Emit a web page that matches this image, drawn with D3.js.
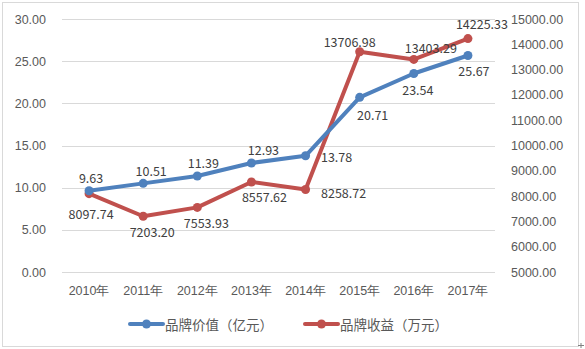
<!DOCTYPE html>
<html><head><meta charset="utf-8">
<script src="https://cdn.jsdelivr.net/npm/d3@7"></script>
<style>
html,body{margin:0;padding:0;background:#fff;}
svg{display:block;font-family:"Noto Sans CJK SC","Noto Sans",sans-serif;}
</style></head>
<body><svg id="c" width="585" height="349"></svg>
<script>
const categories = ["2010年","2011年","2012年","2013年","2014年","2015年","2016年","2017年"];
const brandValue = [9.63,10.51,11.39,12.93,13.78,20.71,23.54,25.67];
const brandIncome = [8097.74,7203.20,7553.93,8557.62,8258.72,13706.98,13403.29,14225.33];
const leftTicks = [0,5,10,15,20,25,30];
const rightTicks = [5000,6000,7000,8000,9000,10000,11000,12000,13000,14000,15000];
const seriesNames = ["品牌价值（亿元）","品牌收益（万元）"];
// label offsets (dx, dy) relative to each point
const valueLabelOffsets = [[2,-13],[8,-13],[6,-13],[12,-13],[31,1],[13,17],[4,16],[6,15]];
const incomeLabelOffsets = [[2,20],[9,15],[9,15],[13,15],[38,3],[-10,-10],[17,-12],[14,-15]];

const svg = d3.select("#c");
const m = {left:62, right:495, top:19, bottom:272};
const blue = "#4F81BD", red = "#C0504D";

svg.append("rect").attr("x",2.5).attr("y",2.5).attr("width",576).attr("height",344)
  .attr("fill","#fff").attr("stroke","#d9d9d9");

const x = d3.scaleBand().domain(categories).range([m.left,m.right]);
const yL = d3.scaleLinear().domain([0,30]).range([m.bottom,m.top]);
const yR = d3.scaleLinear().domain([5000,15000]).range([m.bottom,m.top]);
const cx = c => x(c) + x.bandwidth()/2;

// gridlines
svg.append("g").selectAll("line").data(leftTicks).join("line")
  .attr("x1",m.left).attr("x2",m.right)
  .attr("y1",d=>Math.round(yL(d))+0.5).attr("y2",d=>Math.round(yL(d))+0.5)
  .attr("stroke","#d9d9d9").attr("stroke-width",1);

// left axis
const gl = svg.append("g").attr("transform",`translate(${m.left},0)`)
  .call(d3.axisLeft(yL).tickValues(leftTicks).tickFormat(d3.format(".2f")).tickSize(0).tickPadding(16));
gl.select(".domain").remove();
gl.selectAll("text").attr("fill","#595959").style("font-size","12.5px");

// right axis
const gr = svg.append("g").attr("transform",`translate(${m.right},0)`)
  .call(d3.axisRight(yR).tickValues(rightTicks).tickFormat(d3.format(".2f")).tickSize(0).tickPadding(16));
gr.select(".domain").remove();
gr.selectAll("text").attr("fill","#595959").style("font-size","12.5px");

// bottom axis
const gb = svg.append("g").attr("transform",`translate(0,${m.bottom})`)
  .call(d3.axisBottom(x).tickSize(0).tickPadding(14));
gb.select(".domain").remove();
gb.selectAll("text").attr("fill","#595959").style("font-size","12.5px");

// lines
const lineL = d3.line().x((d,i)=>cx(categories[i])).y(d=>yL(d));
const lineR = d3.line().x((d,i)=>cx(categories[i])).y(d=>yR(d));
svg.append("path").datum(brandIncome).attr("d",lineR).attr("fill","none")
  .attr("stroke",red).attr("stroke-width",4).attr("stroke-linejoin","round").attr("stroke-linecap","round");
svg.append("g").selectAll("circle").data(brandIncome).join("circle")
  .attr("cx",(d,i)=>cx(categories[i])).attr("cy",d=>yR(d)).attr("r",4.5).attr("fill",red);
svg.append("path").datum(brandValue).attr("d",lineL).attr("fill","none")
  .attr("stroke",blue).attr("stroke-width",4).attr("stroke-linejoin","round").attr("stroke-linecap","round");
svg.append("g").selectAll("circle").data(brandValue).join("circle")
  .attr("cx",(d,i)=>cx(categories[i])).attr("cy",d=>yL(d)).attr("r",4.5).attr("fill",blue);

// data labels
svg.append("g").selectAll("text").data(brandValue).join("text")
  .attr("x",(d,i)=>cx(categories[i])+valueLabelOffsets[i][0])
  .attr("y",(d,i)=>yL(d)+valueLabelOffsets[i][1])
  .attr("text-anchor","middle").attr("dominant-baseline","central")
  .attr("fill","#404040").style("font-size","12.5px").text(d=>d.toFixed(2));
svg.append("g").selectAll("text").data(brandIncome).join("text")
  .attr("x",(d,i)=>cx(categories[i])+incomeLabelOffsets[i][0])
  .attr("y",(d,i)=>yR(d)+incomeLabelOffsets[i][1])
  .attr("text-anchor","middle").attr("dominant-baseline","central")
  .attr("fill","#404040").style("font-size","12.5px").text(d=>d.toFixed(2));

// legend
const legY = 324;
const legend = [{name:seriesNames[0],color:blue,x:130},{name:seriesNames[1],color:red,x:305}];
const lg = svg.append("g").selectAll("g").data(legend).join("g");
lg.append("line").attr("x1",d=>d.x).attr("x2",d=>d.x+33).attr("y1",legY).attr("y2",legY)
  .attr("stroke",d=>d.color).attr("stroke-width",4).attr("stroke-linecap","round");
lg.append("circle").attr("cx",d=>d.x+16.5).attr("cy",legY).attr("r",4.5).attr("fill",d=>d.color);
lg.append("text").attr("x",d=>d.x+35).attr("y",legY).attr("dominant-baseline","central")
  .attr("fill","#595959").style("font-size","13.5px").text(d=>d.name);

// resize handle mark
svg.append("path").attr("d","M578,345.5H584M581,343V348").attr("stroke","#808080").attr("stroke-width",1).attr("fill","none");
</script></body></html>
